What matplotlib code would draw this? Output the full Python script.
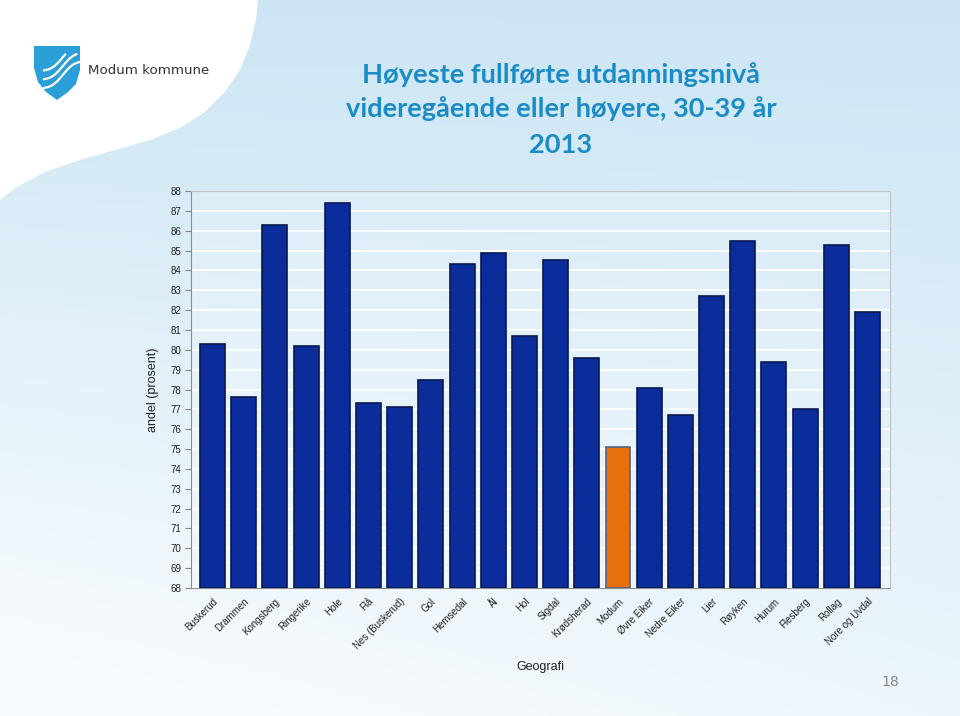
import numpy as np
import matplotlib.pyplot as plt
from matplotlib.patches import Polygon

# data
kommuner = ['Buskerud', 'Drammen', 'Kongsberg', 'Ringerike', 'Hole', 'Flå',
            'Nes (Buskerud)', 'Gol', 'Hemsedal', 'Ål', 'Hol', 'Sigdal',
            'Krødsherad', 'Modum', 'Øvre Eiker', 'Nedre Eiker', 'Lier',
            'Røyken', 'Hurum', 'Flesberg', 'Rollag', 'Nore og Uvdal']
andel = [80.3, 77.6, 86.3, 80.2, 87.4, 77.3, 77.1, 78.5, 84.3, 84.9, 80.7,
         84.5, 79.6, 75.1, 78.1, 76.7, 82.7, 85.5, 79.4, 77.0, 85.3, 81.9]
highlight = 'Modum'
y_ticks = list(range(68, 89))

W, H = 960, 716
fig = plt.figure(figsize=(W / 100, H / 100), dpi=100)

# slide background
bg = fig.add_axes([0, 0, 1, 1])
bg.set_xlim(0, W)
bg.set_ylim(H, 0)
bg.axis('off')
yy, xx = np.mgrid[0:1:200j, 0:1:200j]
t = np.clip(0.75 * yy + 0.35 * (1 - xx) * yy, 0, 1)
top = np.array([0.80, 0.90, 0.96])
bot = np.array([0.97, 0.985, 0.995])
img = top[None, None, :] * (1 - t[..., None]) + bot[None, None, :] * t[..., None]
bg.imshow(img, extent=[0, W, H, 0], aspect='auto', zorder=0)

# white wave in the top-left corner
wave = [(0, 0), (258, 0), (256, 20), (250, 45), (240, 70), (225, 92),
        (205, 112), (180, 128), (150, 140), (115, 150), (80, 160),
        (45, 172), (15, 188), (0, 200)]
bg.add_patch(Polygon(wave, closed=True, facecolor='white', edgecolor='none', zorder=1))

# logo: shield with waves
shield = [(34, 46), (80, 46), (80, 70), (76, 84), (68, 92), (57, 100),
          (46, 92), (38, 82), (34, 68)]
bg.add_patch(Polygon(shield, closed=True, facecolor='#2a9fd8', edgecolor='none', zorder=2))
for k in range(3):
    xs = np.linspace(44, 80, 30)
    ys = 80 - 4 * k * 2.2 - (xs - 44) * 0.7 + 3 * np.sin((xs - 44) / 6)
    m = (ys > 46) & (ys < 98)
    bg.plot(xs[m], ys[m] + 8, color='white', lw=1.6, zorder=3)
bg.text(88, 70, 'Modum kommune', fontsize=9.6, color='#333333',
        family='DejaVu Sans', va='center', ha='left', zorder=3)

# title
title_kw = dict(fontsize=19.6, fontweight='bold', color='#1b8cc6',
                family='Lato', ha='center', va='center')
bg.text(561, 75, 'Høyeste fullførte utdanningsnivå', **title_kw)
bg.text(561, 109, 'videregående eller høyere, 30-39 år', **title_kw)
bg.text(561, 145, '2013', **title_kw)

bg.text(890, 682, '18', fontsize=10, color='#888888', ha='center', va='center')

# chart
ax = fig.add_axes([191 / W, 1 - 588 / H, 699 / W, 397 / H])
ax.set_facecolor((1, 1, 1, 0.15))
x = np.arange(len(kommuner))
colors = ['#e8700c' if k == highlight else '#0b2d9b' for k in kommuner]
edges = ['#4f6582' if k == highlight else '#0a1850' for k in kommuner]
ax.bar(x, [v - 68 for v in andel], bottom=68, width=0.8,
       color=colors, edgecolor=edges, linewidth=1.2, zorder=3)

ax.set_xlim(-0.69, len(kommuner) - 1 + 0.72)
ax.set_ylim(68, 88)
ax.set_yticks(y_ticks)
ax.set_yticklabels([str(v) for v in y_ticks], fontsize=7, color='#222222',
                   family='Liberation Sans')
ax.set_xticks(x)
ax.set_xticklabels(kommuner, rotation=45, ha='right', rotation_mode='anchor',
                   fontsize=7, color='#222222', family='Liberation Sans')
ax.tick_params(axis='y', length=4, color='#888888', pad=3)
ax.tick_params(axis='x', length=0, pad=6)
ax.grid(axis='y', color='white', lw=1.3, zorder=1)
ax.set_axisbelow(True)
for s in ['top', 'right']:
    ax.spines[s].set_color('#c0c4c8')
for s in ['left', 'bottom']:
    ax.spines[s].set_color('#8c8c8c')

ax.set_ylabel('andel (prosent)', fontsize=9, color='#222222',
              family='Liberation Sans', labelpad=8)
bg.text(540, 667, 'Geografi', fontsize=9, color='#222222',
        family='Liberation Sans', ha='center', va='center')

fig.savefig('out.png', dpi=100)
